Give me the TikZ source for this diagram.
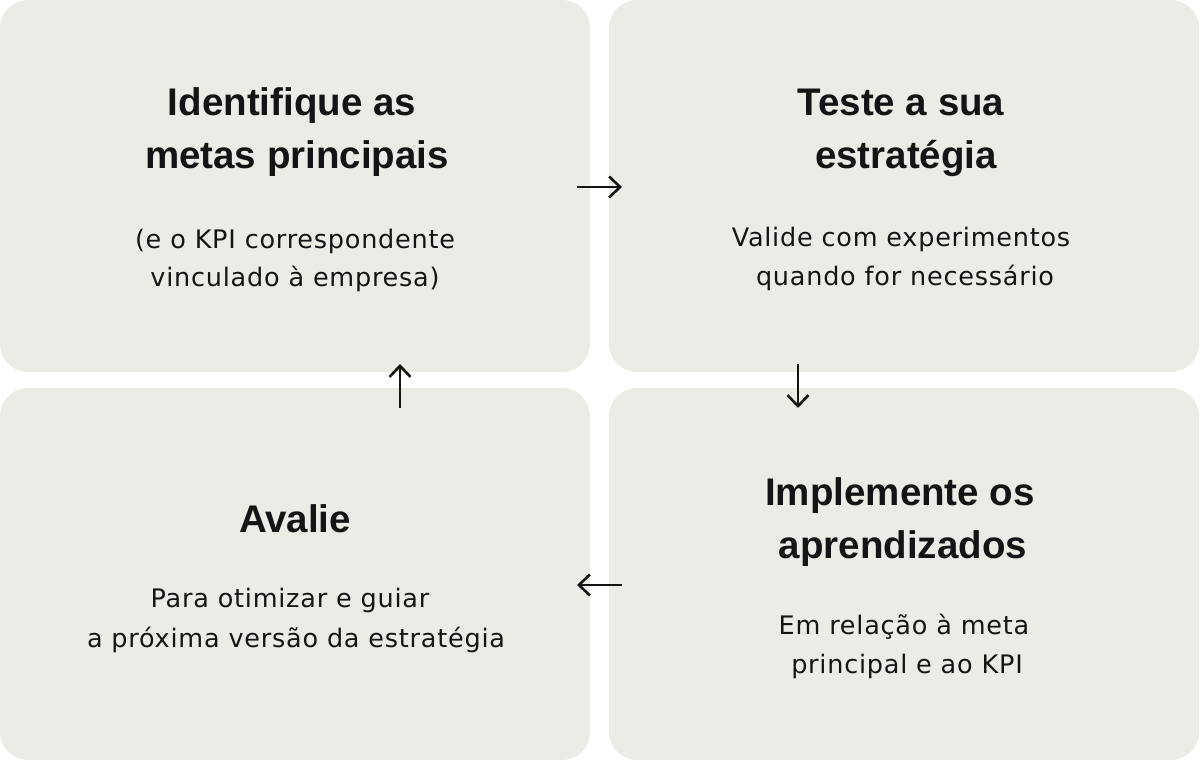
\documentclass[tikz,border=0pt]{standalone}
\usepackage{fontspec}
\setmainfont{Liberation Sans}
\newfontfamily\bodyfont[LetterSpace=3]{DejaVu Sans}
\usetikzlibrary{arrows.meta}
\definecolor{boxfill}{HTML}{ECECE7}
\definecolor{ink}{HTML}{141414}
\tikzset{
  panel/.style={fill=boxfill, draw=none, rounded corners=28pt, minimum width=590pt, minimum height=372pt, inner sep=0pt},
  headline/.style={anchor=base, text=ink, inner sep=0pt, font=\fontsize{38.5}{46}\selectfont\bfseries},
  bodyline/.style={anchor=base, text=ink, inner sep=0pt, font=\bodyfont\fontsize{25.5}{30}\selectfont},
  flow/.style={draw=ink, line width=2.6pt, -{Straight Barb[length=11pt,width=21pt,line width=2.6pt]}}
}
\begin{document}
\begin{tikzpicture}[x=1pt,y=-1pt]
\useasboundingbox (0,0) rectangle (1200,760);
% panels
\node[panel] (tl) at (295,186) {};
\node[panel] (tr) at (904,186) {};
\node[panel] (bl) at (295,574) {};
\node[panel] (br) at (904,574) {};
% top-left texts
\node[headline] (tlh1) at (292,115) {Identifique as};
\node[headline] (tlh2) at (297,168) {metas principais};
\node[bodyline] (tlb1) at (295,248) {(e o KPI correspondente};
\node[bodyline] (tlb2) at (295,286) {vinculado à empresa)};
% top-right texts
\node[headline] (trh1) at (901,115) {Teste a sua};
\node[headline] (trh2) at (906,168) {estratégia};
\node[bodyline] (trb1) at (901,246) {Valide com experimentos};
\node[bodyline] (trb2) at (905,285) {quando for necessário};
% bottom-right texts
\node[headline] (brh1) at (900,505) {Implemente os};
\node[headline] (brh2) at (903,558) {aprendizados};
\node[bodyline] (brb1) at (904,634) {Em relação à meta};
\node[bodyline] (brb2) at (907,673) {principal e ao KPI};
% bottom-left texts
\node[headline] (blh1) at (295,532) {Avalie};
\node[bodyline] (blb1) at (290,607) {Para otimizar e guiar};
\node[bodyline] (blb2) at (296,647) {a próxima versão da estratégia};
% arrows
\coordinate (r1) at (577,187); \coordinate (r2) at (622,187);
\coordinate (d1) at (798,364); \coordinate (d2) at (798,408);
\coordinate (l1) at (622,585); \coordinate (l2) at (577,585);
\coordinate (u1) at (400,408); \coordinate (u2) at (400,364);
\draw[flow] (r1) -- (r2);
\draw[flow] (d1) -- (d2);
\draw[flow] (l1) -- (l2);
\draw[flow] (u1) -- (u2);
\end{tikzpicture}
\end{document}
